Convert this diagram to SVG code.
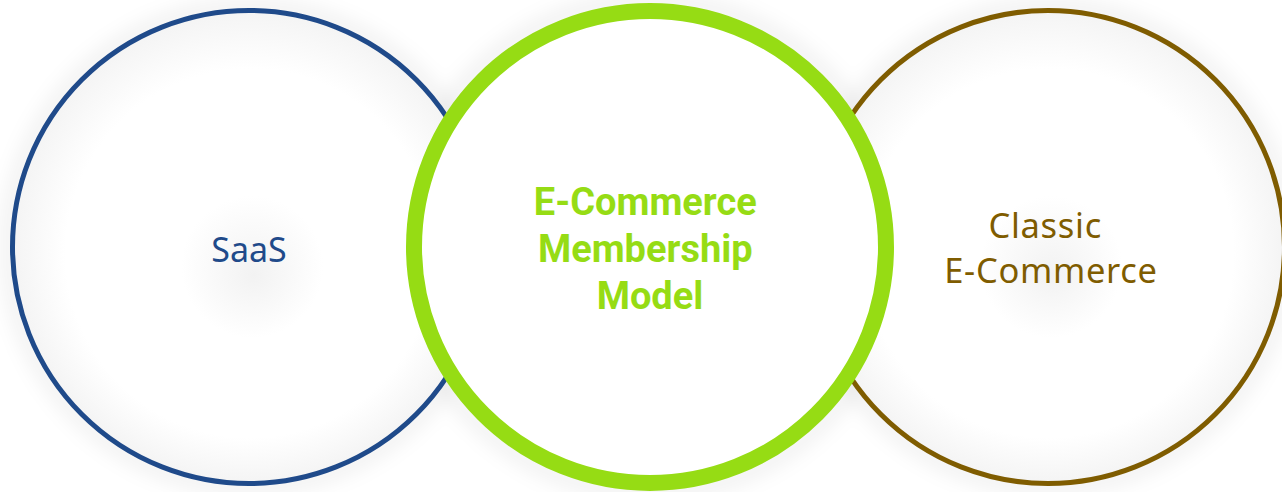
<svg xmlns="http://www.w3.org/2000/svg" width="1282" height="492" viewBox="0 0 1282 492">
  <style>
    .ring { fill: url(#innerHaze); stroke-width: 5; }
    .label { text-anchor: middle; font-family: "Noto Sans", "Open Sans", sans-serif; }
    .side { font-size: 34px; }
    .wide { font-size: 34.5px; letter-spacing: 0.7px; }
    .core { font-family: Roboto, "Noto Sans", sans-serif; font-weight: 700; font-size: 38px; fill: #96dc14; }
  </style>
  <defs>
    <!-- soft grey haze inside the outer circles: light rim, pale spot under the label -->
    <radialGradient id="innerHaze" cx="0.5" cy="0.5" r="0.5" fx="0.51" fy="0.56">
      <stop offset="0" stop-color="#f2f2f2"/>
      <stop offset="0.3" stop-color="#ffffff"/>
      <stop offset="0.78" stop-color="#ffffff"/>
      <stop offset="1" stop-color="#f4f4f4"/>
    </radialGradient>
    <filter id="halo" x="-20%" y="-20%" width="140%" height="140%">
      <feGaussianBlur stdDeviation="9"/>
    </filter>
  </defs>

  <rect width="1282" height="492" fill="#ffffff"/>

  <!-- soft halos behind the circles -->
  <g id="halos" fill="none" stroke="#000000" stroke-opacity="0.05" stroke-width="18" filter="url(#halo)">
    <circle cx="249" cy="247" r="240"/>
    <circle cx="1048" cy="247" r="240"/>
    <circle cx="650" cy="247" r="246"/>
  </g>

  <g id="node-saas">
    <circle class="ring" cx="249" cy="247" r="236.5" stroke="#1f4a8a"/>
    <text class="label side" x="249" y="262" fill="#1f4a8a">SaaS</text>
  </g>

  <g id="node-classic">
    <circle class="ring" cx="1048" cy="247" r="236.5" stroke="#7f5c00"/>
    <text class="label wide" fill="#7f5c00">
      <tspan x="1050" y="238">Classic</tspan>
      <tspan x="1051" y="283">E-Commerce</tspan>
    </text>
  </g>

  <g id="node-membership">
    <circle cx="650" cy="247" r="236" fill="#ffffff" stroke="#96dc14" stroke-width="16"/>
    <text class="label core">
      <tspan x="650" y="215">E-Commerce</tspan>
      <tspan x="650" y="262">Membership</tspan>
      <tspan x="650" y="309">Model</tspan>
    </text>
  </g>
</svg>
